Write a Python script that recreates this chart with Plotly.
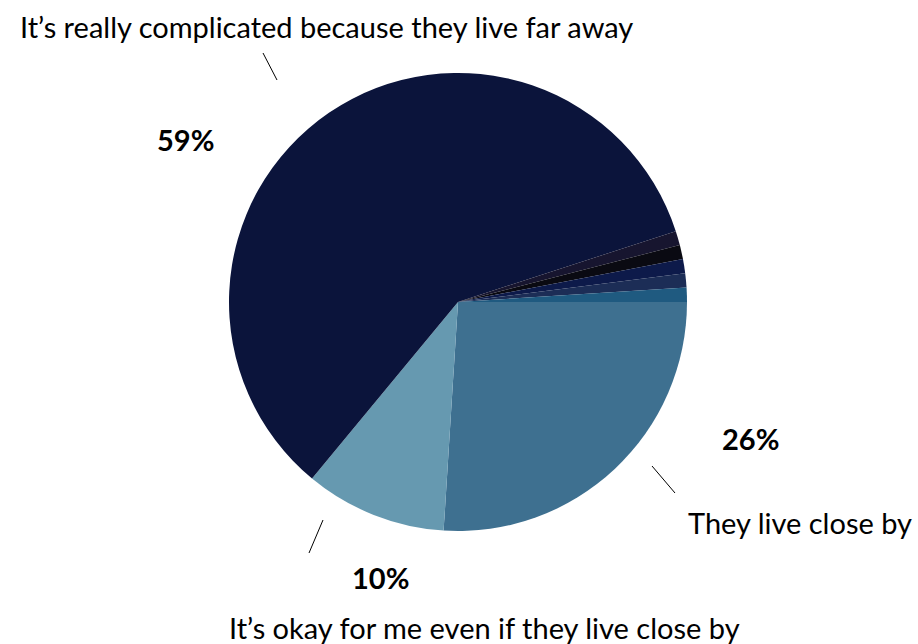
import plotly.graph_objects as go

# Slices in clockwise order, starting at 3 o'clock
labels = [
    "They live close by",
    "It\u2019s okay for me even if they live close by",
    "It\u2019s really complicated because they live far away",
    "Other A", "Other B", "Other C", "Other D", "Other E",
]
values = [26, 10, 59, 1, 1, 1, 1, 1]
colors = ["#3e7090", "#6699b0", "#0b143b",
          "#17152f", "#0a0a12", "#0d1a4a", "#1c2d56", "#1f5a80"]

W, H = 918, 644
FONT = "Lato"

fig = go.Figure(go.Pie(
    labels=labels,
    values=values,
    sort=False,
    direction="clockwise",
    rotation=90,
    marker=dict(colors=colors, line=dict(width=0)),
    textinfo="none",
    hoverinfo="label+percent",
    domain=dict(x=[229 / W, 687 / W], y=[1 - 531 / H, 1 - 73 / H]),
    showlegend=False,
))

def px(x, y):
    return x / W, 1 - y / H

annots = [
    (labels[2], 326, 27, False),
    (f"{values[2]}%", 185, 140, True),
    (f"{values[0]}%", 750, 438, True),
    (labels[0], 800, 522, False),
    (f"{values[1]}%", 380, 577, True),
    (labels[1], 484, 627, False),
]
annotations = []
for text, x, y, bold in annots:
    ax, ay = px(x, y)
    annotations.append(dict(
        text=f"<b>{text}</b>" if bold else text,
        x=ax, y=ay, xref="paper", yref="paper",
        xanchor="center", yanchor="middle", showarrow=False,
        font=dict(family=FONT, size=29, color="#000000"),
    ))

leaders = [((263, 53), (277, 80)), ((652, 466), (675, 493)), ((323, 520), (309, 553))]
shapes = []
for (x0, y0), (x1, y1) in leaders:
    a0, b0 = px(x0, y0)
    a1, b1 = px(x1, y1)
    shapes.append(dict(type="line", xref="paper", yref="paper",
                       x0=a0, y0=b0, x1=a1, y1=b1,
                       line=dict(color="#000000", width=1)))

fig.update_layout(
    width=W, height=H,
    margin=dict(l=0, r=0, t=0, b=0),
    paper_bgcolor="white", plot_bgcolor="white",
    annotations=annotations, shapes=shapes,
)

fig.write_html("out.html")
